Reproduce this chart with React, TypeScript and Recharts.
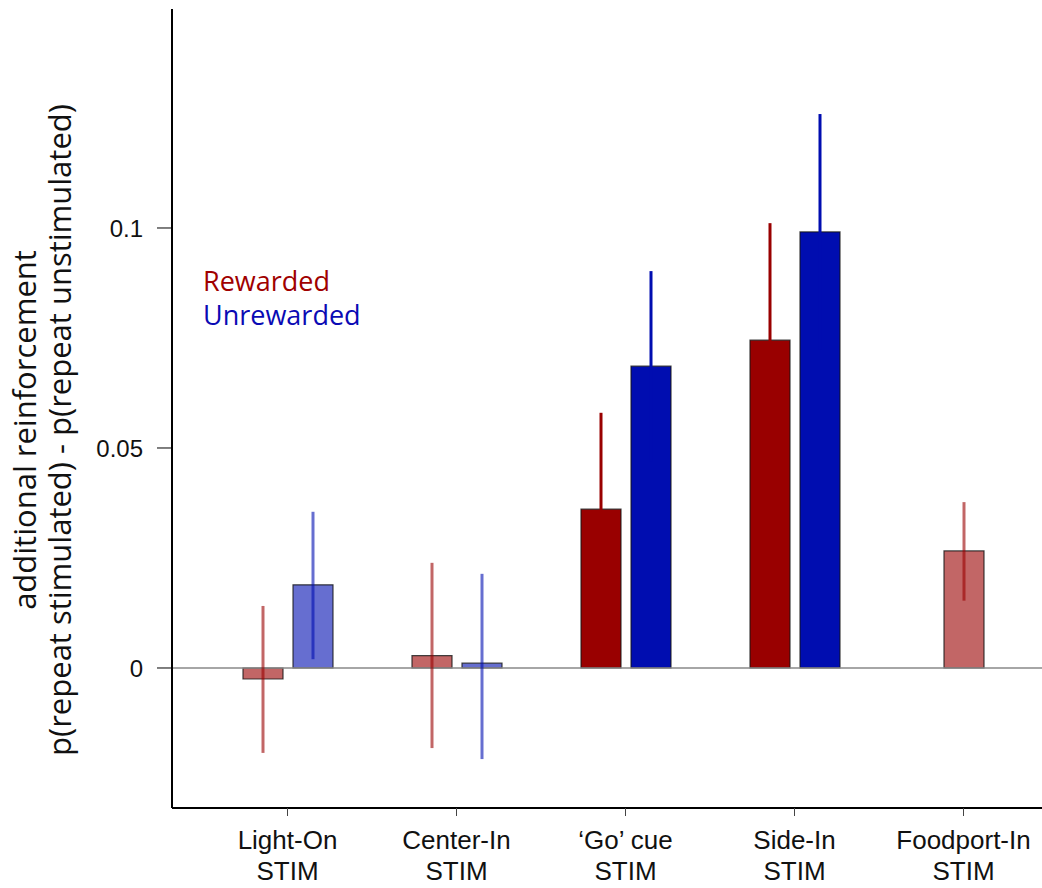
import React from "react";
import {
  BarChart,
  Bar,
  Cell,
  XAxis,
  YAxis,
  ErrorBar,
  ReferenceLine,
  Legend,
} from "recharts";

const categories = [
  "Light-On\nSTIM",
  "Center-In\nSTIM",
  "\u2018Go\u2019 cue\nSTIM",
  "Side-In\nSTIM",
  "Foodport-In\nSTIM",
];
// light (faded) bars vs solid ones
const faded = [true, true, false, false, true];

const rewarded = [-0.0025, 0.0028, 0.0361, 0.0745, 0.0266];
const rewardedLow = [-0.0193, -0.0182, 0.0142, 0.0479, 0.0153];
const rewardedHigh = [0.0141, 0.0239, 0.058, 0.1011, 0.0377];

const unrewarded = [0.0189, 0.0011, 0.0686, 0.0991, null];
const unrewardedLow = [0.002, -0.0207, 0.047, 0.0723, null];
const unrewardedHigh = [0.0355, 0.0214, 0.0902, 0.1259, null];

const yTicks = [0, 0.05, 0.1];
const yDomain = [-0.03182, 0.14977];

const seriesNames = ["Rewarded", "Unrewarded"];
const legendColors = ["#a00000", "#0a0ab4"];

const RED = "#990000";
const BLUE = "#000db0";
const RED_FADED = "rgba(153,0,0,0.6)";
const BLUE_FADED = "rgba(0,13,176,0.6)";

type Row = Record<string, any>;

const delta = (v: number | null, lo: number | null, hi: number | null) =>
  v == null || lo == null || hi == null ? null : [v - lo, hi - v];

const table: Row[] = categories.map((name, i) => {
  const hasPair = unrewarded[i] != null;
  const rErr = delta(rewarded[i], rewardedLow[i], rewardedHigh[i]);
  const uErr = delta(unrewarded[i], unrewardedLow[i], unrewardedHigh[i]);
  return {
    name,
    rew: hasPair ? rewarded[i] : null,
    unrew: unrewarded[i],
    solo: hasPair ? null : rewarded[i],
    rewErrFaded: hasPair && faded[i] ? rErr : null,
    rewErrSolid: hasPair && !faded[i] ? rErr : null,
    unrewErrFaded: faded[i] ? uErr : null,
    unrewErrSolid: !faded[i] ? uErr : null,
    soloErrFaded: !hasPair && faded[i] ? rErr : null,
    soloErrSolid: !hasPair && !faded[i] ? rErr : null,
  };
});

const tickFont = "'Liberation Sans', Arial, Helvetica, sans-serif";
const labelFont = "'Open Sans', 'Noto Sans', sans-serif";

const XTick = (props: any) => {
  const { x, y, payload } = props;
  const [a, b] = String(payload.value).split("\n");
  return (
    <text x={x} y={y} textAnchor="middle" fontFamily={tickFont} fontSize={26} fill="#111">
      <tspan x={x} dy={33}>{a}</tspan>
      <tspan x={x} dy={31}>{b}</tspan>
    </text>
  );
};

const YLabel = () => (
  <g fontFamily={labelFont} fontSize={31} fill="#111">
    <text x={36} y={430} textAnchor="middle" transform="rotate(-90 36 430)">
      additional reinforcement
    </text>
    <text x={71} y={430} textAnchor="middle" transform="rotate(-90 71 430)">
      p(repeat stimulated) - p(repeat unstimulated)
    </text>
  </g>
);

const LegendText = () => (
  <div style={{ fontFamily: labelFont, fontSize: 27, lineHeight: "34px" }}>
    {seriesNames.map((n, i) => (
      <div key={n} style={{ color: legendColors[i] }}>
        {n}
      </div>
    ))}
  </div>
);

const barStroke = "rgba(20,20,20,0.8)";
const xPad = { left: 31, right: -6 };

export default function App() {
  return (
    <div style={{ position: "absolute", left: 0, top: 0, background: "#fff" }}>
      <BarChart
        width={1042}
        height={888}
        data={table}
        margin={{ top: 9, right: 0, bottom: 0, left: 0 }}
        barSize={40}
        barGap={10}
      >
        <XAxis
          xAxisId="main"
          dataKey="name"
          interval={0}
          height={80}
          padding={xPad}
          axisLine={{ stroke: "#000", strokeWidth: 2 }}
          tickLine={{ stroke: "#444" }}
          tickSize={8}
          tickMargin={0}
          tick={<XTick />}
        />
        <XAxis xAxisId="solo" dataKey="name" hide padding={xPad} />
        <YAxis
          type="number"
          domain={yDomain}
          ticks={yTicks}
          allowDataOverflow
          width={172}
          axisLine={{ stroke: "#000", strokeWidth: 2 }}
          tickLine={{ stroke: "#000" }}
          tickSize={15}
          tickMargin={14}
          tick={{ fontFamily: tickFont, fontSize: 24, fill: "#111" }}
          label={<YLabel />}
        />
        <ReferenceLine xAxisId="main" y={0} stroke="#888" strokeWidth={1.5} />
        <Legend
          layout="vertical"
          align="center"
          verticalAlign="middle"
          content={<LegendText />}
          wrapperStyle={{ left: 203, top: 264, width: "auto" }}
        />
        <Bar xAxisId="main" dataKey="rew" name={seriesNames[0]} stroke={barStroke} strokeWidth={1.2} isAnimationActive={false}>
          {table.map((r, i) => (
            <Cell key={i} fill={faded[i] ? RED_FADED : RED} />
          ))}
          <ErrorBar dataKey="rewErrFaded" direction="y" width={0} stroke={RED_FADED} strokeWidth={3} />
          <ErrorBar dataKey="rewErrSolid" direction="y" width={0} stroke={RED} strokeWidth={3} />
        </Bar>
        <Bar xAxisId="main" dataKey="unrew" name={seriesNames[1]} stroke={barStroke} strokeWidth={1.2} isAnimationActive={false}>
          {table.map((r, i) => (
            <Cell key={i} fill={faded[i] ? BLUE_FADED : BLUE} />
          ))}
          <ErrorBar dataKey="unrewErrFaded" direction="y" width={0} stroke={BLUE_FADED} strokeWidth={3} />
          <ErrorBar dataKey="unrewErrSolid" direction="y" width={0} stroke={BLUE} strokeWidth={3} />
        </Bar>
        <Bar xAxisId="solo" dataKey="solo" name={seriesNames[0]} stroke={barStroke} strokeWidth={1.2} isAnimationActive={false}>
          {table.map((r, i) => (
            <Cell key={i} fill={faded[i] ? RED_FADED : RED} />
          ))}
          <ErrorBar dataKey="soloErrFaded" direction="y" width={0} stroke={RED_FADED} strokeWidth={3} />
          <ErrorBar dataKey="soloErrSolid" direction="y" width={0} stroke={RED} strokeWidth={3} />
        </Bar>
      </BarChart>
    </div>
  );
}
